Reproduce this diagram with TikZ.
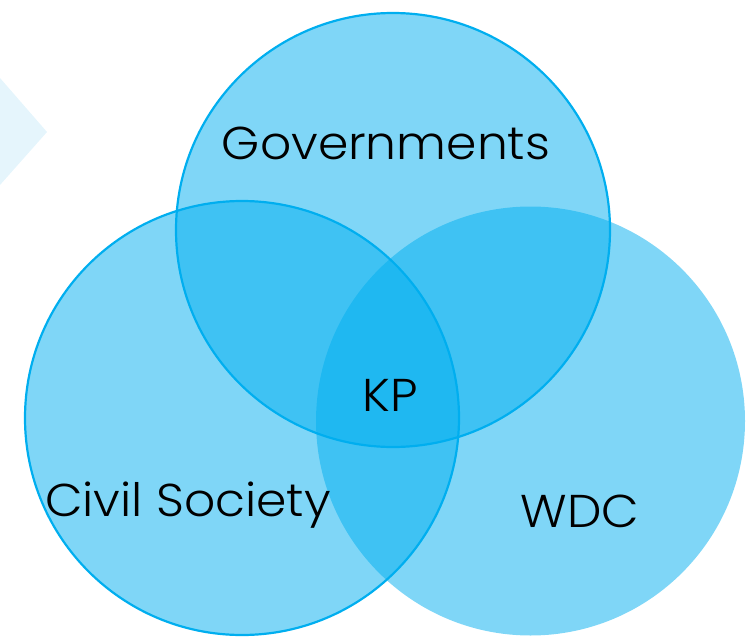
\documentclass[tikz,border=0pt]{standalone}
\usepackage{fontspec}
\setmainfont{Poppins}[UprightFont=* Light, FakeStretch=1.06]
\definecolor{vblue}{HTML}{00AEEF}
\definecolor{chev}{HTML}{E5F5FC}
\tikzset{
  venn/.style={fill=vblue, fill opacity=0.5},
  vennline/.style={venn, draw=vblue, line width=2.2pt},
  lbl/.style={font=\fontsize{46}{48}\selectfont, text=black, inner sep=0pt}
}
\begin{document}
\begin{tikzpicture}[x=1pt,y=-1pt]
\useasboundingbox (0,0) rectangle (754,639);
\fill[chev] (0,78) -- (47,132) -- (0,185) -- cycle;
\path[venn] (530.5,421) circle (214.5);
\path[vennline] (242,418) circle (217);
\path[vennline] (393,230) circle (217);
\node[lbl] (gov) at (386,143) {Governments};
\node[lbl] (kp) at (390,395) {KP};
\node[lbl] (cs) at (188,505) {Civil Society};
\node[lbl] (wdc) at (580,511) {WDC};
\end{tikzpicture}
\end{document}
